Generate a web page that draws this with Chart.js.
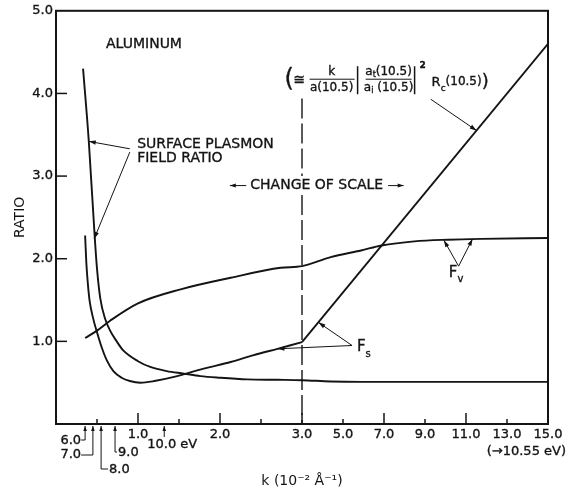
<!DOCTYPE html>
<html>
<head>
<meta charset="utf-8">
<script src="https://cdn.jsdelivr.net/npm/chart.js@4.4.1/dist/chart.umd.min.js"></script>
<style>
  html, body { margin:0; padding:0; background:#fff; }
  canvas { display:block; }
</style>
</head>
<body>
<canvas id="chart" width="571" height="495"></canvas>
<script>
// ── data: k in 10^-2 1/Å, value = ratio ────────────────────────────────
// surface plasmon field ratio (steep curve on the left)
const FIELD_K = [0.33, 0.40, 0.47, 0.50, 0.54, 0.60, 0.66, 0.74, 0.82, 1.0, 1.15, 1.35, 1.56, 1.76, 2.0, 2.33, 2.7, 3.0, 4.4, 5.9, 15.0];
const FIELD_R = [4.30, 3.42, 2.30, 1.88, 1.52, 1.27, 1.13, 1.00, 0.89, 0.76, 0.69, 0.64, 0.61, 0.58, 0.56, 0.54, 0.535, 0.53, 0.515, 0.51, 0.51];
// F_s : curve up to the change of scale, then a straight line
const FS_K = [0.355, 0.37, 0.39, 0.41, 0.45, 0.50, 0.56, 0.62, 0.70, 0.80, 0.90, 1.03, 1.2, 1.44, 1.8, 2.13, 2.4, 2.7, 3.0];
const FS_R = [2.28, 1.95, 1.68, 1.49, 1.29, 1.11, 0.92, 0.77, 0.64, 0.56, 0.52, 0.50, 0.52, 0.57, 0.67, 0.75, 0.83, 0.91, 0.99];
const FS_LINE_K = [3.0, 15.0];
const FS_LINE_R = [0.99, 4.60];
// F_v
const FV_K = [0.355, 0.50, 0.66, 1.0, 1.52, 2.13, 2.74, 3.0, 4.4, 5.88, 6.88, 8.48, 10.12, 11.76, 15.0];
const FV_R = [1.04, 1.13, 1.25, 1.46, 1.63, 1.77, 1.89, 1.91, 2.02, 2.10, 2.16, 2.21, 2.23, 2.24, 2.25];

// axis ticks
const X_LABELS = [1, 2, 3, 5, 7, 9, 11, 13, 15];
const X_MAJOR = [1, 2, 3, 7, 11];
const X_MINOR = [0.5, 1.5, 2.5, 5, 9, 13];
const Y_LABELS = [1, 2, 3, 4, 5];
const Y_TICKS = [1, 2, 3, 4];
// photon energies marked under the axis
const EV_K = [0.355, 0.45, 0.55, 0.72, 1.32];
const EV_LABELS = ['6.0', '7.0', '8.0', '9.0', '10.0 eV'];

// ── helpers ────────────────────────────────────────────────────────────
// the axis changes scale at k = 3 (right half is 4x compressed)
const kToU = k => k <= 3 ? k : 3 + (k - 3) / 4;
const uToK = u => u <= 3 ? u : 3 + (u - 3) * 4;
const pts = (ks, rs) => ks.map((k, i) => ({ x: kToU(k), y: rs[i] }));

const INK = '#141414';
const FONT = "'DejaVu Sans', sans-serif";

function arrow(ctx, x1, y1, x2, y2, head = 7, half = 2.2) {
  ctx.beginPath(); ctx.moveTo(x1, y1); ctx.lineTo(x2, y2); ctx.stroke();
  const a = Math.atan2(y2 - y1, x2 - x1), c = Math.cos(a), s = Math.sin(a);
  ctx.beginPath();
  ctx.moveTo(x2, y2);
  ctx.lineTo(x2 - head * c + half * s, y2 - head * s - half * c);
  ctx.lineTo(x2 - head * c - half * s, y2 - head * s + half * c);
  ctx.closePath(); ctx.fill();
}
function line(ctx, x1, y1, x2, y2) {
  ctx.beginPath(); ctx.moveTo(x1, y1); ctx.lineTo(x2, y2); ctx.stroke();
}
// lettering is a bit heavier than the font: fill plus a hairline stroke
function txt(ctx, t, x, y) {
  ctx.fillText(t, x, y);
  const lw = ctx.lineWidth; ctx.lineWidth = 0.35; ctx.strokeText(t, x, y); ctx.lineWidth = lw;
}
// run of text pieces [text, size, dy, bold]
function run(ctx, pieces, x, y, align = 'left') {
  const w = pieces.reduce((acc, p) => { ctx.font = `${p[3] ? 'bold ' : ''}${p[1]}px ${FONT}`; return acc + ctx.measureText(p[0]).width; }, 0);
  let cx = align === 'center' ? x - w / 2 : x;
  ctx.textAlign = 'left';
  pieces.forEach(p => {
    ctx.font = `${p[3] ? 'bold ' : ''}${p[1]}px ${FONT}`;
    txt(ctx, p[0], cx, y + (p[2] || 0));
    cx += ctx.measureText(p[0]).width;
  });
}

// ── decoration plugin: frame, inward ticks, notes ──────────────────────
const paper = {
  id: 'paper',
  beforeDraw(chart) {
    const ctx = chart.ctx;
    ctx.save(); ctx.fillStyle = '#fff'; ctx.fillRect(0, 0, chart.width, chart.height); ctx.restore();
  },
  afterDraw(chart) {
    const { ctx, chartArea: a, scales: { x, y } } = chart;
    const X = u => x.getPixelForValue(u), Y = r => y.getPixelForValue(r);
    ctx.save();
    ctx.strokeStyle = INK; ctx.fillStyle = INK; ctx.lineCap = 'butt';

    // frame
    ctx.lineWidth = 2;
    ctx.strokeRect(a.left, a.top, a.right - a.left, a.bottom - a.top);

    // inward ticks
    ctx.lineWidth = 1.5;
    Y_TICKS.forEach(v => line(ctx, a.left, Y(v), a.left + 11, Y(v)));
    X_MAJOR.forEach(k => line(ctx, X(kToU(k)), a.bottom, X(kToU(k)), a.bottom - 11));
    X_MINOR.forEach(k => line(ctx, X(kToU(k)), a.bottom, X(kToU(k)), a.bottom - 5));

    // change-of-scale dashed line
    ctx.lineWidth = 1.4;
    ctx.setLineDash([20, 5]);
    line(ctx, X(3), Y(3.94), X(3), Y(3.0));
    line(ctx, X(3), Y(2.77), X(3), a.bottom);
    ctx.setLineDash([]);

    ctx.textBaseline = 'middle';
    ctx.lineWidth = 1;

    // labels
    ctx.font = `14px ${FONT}`;
    ctx.textAlign = 'left';
    txt(ctx, 'ALUMINUM', X(0.61), Y(4.59));
    txt(ctx, 'SURFACE PLASMON', X(0.99), Y(3.38));
    txt(ctx, 'FIELD RATIO', X(0.99), Y(3.22));
    arrow(ctx, X(0.90), Y(3.33), X(0.40), Y(3.42));
    arrow(ctx, X(0.90), Y(3.29), X(0.465), Y(2.24));

    ctx.textAlign = 'center';
    txt(ctx, 'CHANGE OF SCALE', X(3.18), Y(2.885));
    arrow(ctx, X(2.32), Y(2.885), X(2.12), Y(2.885), 6, 2);
    arrow(ctx, X(4.05), Y(2.885), X(4.24), Y(2.885), 6, 2);

    // F_s
    arrow(ctx, X(3.61), Y(0.95), X(3.20), Y(1.23));
    arrow(ctx, X(3.61), Y(0.95), X(2.70), Y(0.91));
    run(ctx, [['F', 15], ['s', 10, 7]], X(3.67), Y(0.93));
    // F_v
    arrow(ctx, X(4.91), Y(1.91), X(4.73), Y(2.225));
    arrow(ctx, X(4.91), Y(1.91), X(5.08), Y(2.24));
    run(ctx, [['F', 15], ['v', 10, 7]], X(4.79), Y(1.83));

    // formula
    const fx = X(2.80), fy = Y(4.16);
    ctx.textAlign = 'left';
    run(ctx, [['(', 24]], fx - 1, fy);
    run(ctx, [['≅', 14]], fx + 8, fy);
    run(ctx, [['k', 12]], fx + 46, fy - 8, 'center');
    run(ctx, [['a(10.5)', 12]], fx + 46, fy + 8, 'center');
    line(ctx, fx + 24, fy - 1, fx + 69, fy - 1);
    ctx.lineWidth = 1.5;
    line(ctx, fx + 72, fy - 14, fx + 72, fy + 14);
    line(ctx, fx + 129, fy - 14, fx + 129, fy + 14);
    ctx.lineWidth = 1;
    run(ctx, [['a', 12], ['t', 8, 3], ['(10.5)', 12]], fx + 103, fy - 8, 'center');
    run(ctx, [['a', 12], ['i', 8, 3], [' (10.5)', 12]], fx + 103, fy + 8, 'center');
    line(ctx, fx + 80, fy - 1, fx + 126, fy - 1);
    run(ctx, [['2', 9, 0, true]], fx + 134, fy - 15);
    run(ctx, [['R', 13], ['c', 9, 6], ['(10.5)', 12], [')', 18, 0]], fx + 146, fy + 2);
    arrow(ctx, X(4.57), Y(3.93), X(5.13), Y(3.55));

    // photon energy markers under the axis
    ctx.font = `13px ${FONT}`;
    const b = a.bottom;
    const ex = EV_K.map(k => X(kToU(k)));
    // 6.0
    ctx.textAlign = 'right';
    txt(ctx, EV_LABELS[0], ex[0] - 4, b + 17);
    line(ctx, ex[0] - 4, b + 16, ex[0], b + 16); arrow(ctx, ex[0], b + 16, ex[0], b + 2, 5, 1.8);
    // 7.0
    txt(ctx, EV_LABELS[1], ex[0] - 4, b + 31);
    line(ctx, ex[0] - 4, b + 31, ex[1], b + 31); arrow(ctx, ex[1], b + 31, ex[1], b + 2, 5, 1.8);
    // 8.0
    ctx.textAlign = 'left';
    txt(ctx, EV_LABELS[2], ex[2] + 8, b + 46);
    line(ctx, ex[2], b + 45, ex[2] + 7, b + 45); arrow(ctx, ex[2], b + 45, ex[2], b + 2, 5, 1.8);
    // 9.0
    txt(ctx, EV_LABELS[3], ex[3] + 3, b + 29);
    line(ctx, ex[3], b + 28, ex[3] + 2, b + 28); arrow(ctx, ex[3], b + 28, ex[3], b + 2, 5, 1.8);
    // 10.0 eV
    ctx.textAlign = 'center';
    txt(ctx, EV_LABELS[4], ex[4] + 8, b + 21);
    arrow(ctx, ex[4], b + 13, ex[4], b + 2, 5, 1.8);

    ctx.textAlign = 'right';
    txt(ctx, '(→10.55 eV)', chart.width - 5, b + 28);
    ctx.restore();
  }
};

const curve = (data, extra = {}) => Object.assign({
  data, borderColor: INK, borderWidth: 1.9, pointRadius: 0,
  cubicInterpolationMode: 'monotone', fill: false
}, extra);

const tickFont = { family: FONT, size: 13 };

new Chart(document.getElementById('chart'), {
  type: 'line',
  data: {
    datasets: [
      curve(pts(FIELD_K, FIELD_R)),
      curve(pts(FS_K, FS_R)),
      curve(pts(FS_LINE_K, FS_LINE_R), { cubicInterpolationMode: 'default', tension: 0 }),
      curve(pts(FV_K, FV_R))
    ]
  },
  options: {
    responsive: false, animation: false, devicePixelRatio: 1,
    layout: { padding: { left: 0, right: 23, top: 8, bottom: 0 } },
    plugins: { legend: { display: false }, tooltip: { enabled: false } },
    scales: {
      x: {
        type: 'linear', min: 0, max: 6,
        afterBuildTicks: s => { s.ticks = X_LABELS.map(k => ({ value: kToU(k) })); },
        afterFit: s => { s.height = 71; },
        grid: { display: false, drawTicks: false }, border: { display: false },
        ticks: { autoSkip: false, maxRotation: 0, padding: 3, color: INK, font: tickFont,
                 textStrokeColor: INK, textStrokeWidth: 0.35,
                 callback: v => uToK(v).toFixed(1) },
        title: { display: true, text: 'k (10⁻² Å⁻¹)', color: INK,
                 font: { family: FONT, size: 14 }, padding: { top: 0, bottom: 5 } }
      },
      y: {
        min: 0, max: 5,
        afterBuildTicks: s => { s.ticks = Y_LABELS.map(v => ({ value: v })); },
        afterFit: s => { s.width = 56; },
        grid: { display: false, drawTicks: false }, border: { display: false },
        ticks: { padding: 3, color: INK, font: tickFont,
                 textStrokeColor: INK, textStrokeWidth: 0.35,
                 callback: v => v.toFixed(1) },
        title: { display: true, text: 'RATIO', color: INK,
                 font: { family: FONT, size: 14 }, padding: { top: 12, bottom: 0 } }
      }
    }
  },
  plugins: [paper]
});
</script>
</body>
</html>
